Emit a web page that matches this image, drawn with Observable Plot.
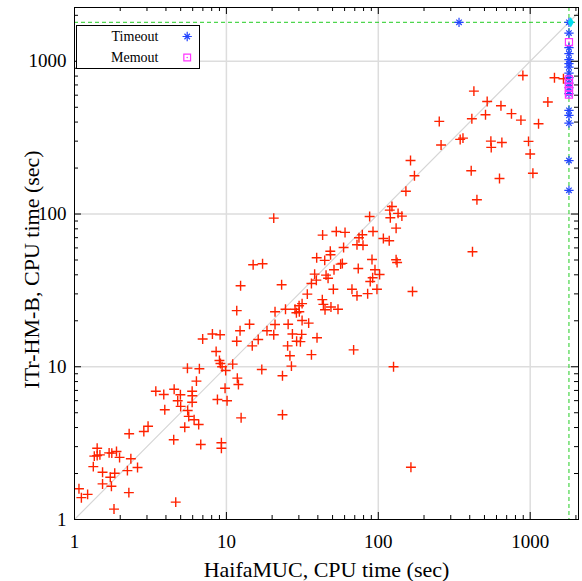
<!DOCTYPE html>
<html><head><meta charset="utf-8">
<script src="https://cdn.jsdelivr.net/npm/d3@7"></script>
<script src="https://cdn.jsdelivr.net/npm/@observablehq/plot@0.6"></script>
<style>body{margin:0;background:#fff} svg text{font-family:"Liberation Serif","Times New Roman",serif}</style>
</head><body><div id="chart"></div>
<script>
// Solved instances: HaifaMUC time (x) vs ITr-HM-B time (y), seconds
const haifa = [1.07,1.11,1.22,1.33,1.41,1.35,1.41,1.47,1.53,1.53,1.69,1.76,1.89,1.98,1.72,1.75,1.84,1.82,2.29,2.35,2.23,2.60,2.28,2.86,3.05,3.43,3.87,3.93,4.53,4.50,4.64,4.78,4.98,5.00,5.32,5.56,5.65,5.95,5.97,5.95,6.13,6.57,6.78,5.54,6.64,6.35,8.56,9.00,9.14,9.37,9.89,11.0,8.73,9.80,10.1,9.27,9.27,11.8,12.0,12.5,17.1,14.8,
20.5,43.0,52.9,60.4,72.4,74.6,59.1,48.3,48.5,39.3,44.4,58.0,56.5,73.8,51.1,38.1,45.3,46.7,39.1,36.3,15.0,17.3,12.4,23.1,50.6,67.1,72.4,34.1,42.8,43.5,44.6,48.8,54.3,11.7,20.9,24.5,28.3,30.1,31.5,28.9,30.2,31.5,34.8,14.2,20.9,25.5,12.3,18.5,6.98,8.09,9.09,11.7,16.2,20.5,27.2,31.3,30.7,29.0,39.5,25.3,68.8,
87.7,119,123,135,143,120,131,92.3,78.5,79.3,108,118,131,133,90.9,95.1,102,91.8,88.5,98.0,85.1,168,
26.2,36.3,26.8,23.4,23.4,126,164,
895,1445,1656,426,521,642,1307,753,508,413,252,869,1135,346,361,551,554,651,975,259,1000,163,173,409,628,1042,152,446,417];
const itr = [1.59,1.39,1.46,2.22,2.93,2.60,2.62,2.65,2.04,1.71,2.73,2.72,2.79,2.55,1.89,1.65,2.01,1.17,3.64,2.50,2.09,2.19,1.50,3.77,4.08,6.92,6.59,5.23,7.13,3.33,1.30,5.99,6.56,5.50,4.02,5.17,4.73,6.92,6.46,5.86,4.50,4.19,3.10,9.79,9.70,8.05,12.6,11.0,10.5,10.0,9.46,10.4,6.11,7.24,5.99,3.18,2.93,8.42,7.66,4.63,9.60,13.7,
94.0,72.8,76.9,75.8,62.9,70.0,60.4,57.1,54.1,51.7,49.7,47.5,47.0,44.0,43.2,40.4,39.8,38.0,36.9,35.1,46.6,47.3,33.9,34.4,32.2,32.2,29.2,29.9,27.5,25.6,23.6,24.6,23.8,23.3,22.9,23.8,23.8,25.1,25.9,22.6,22.9,20.1,19.3,19.0,18.9,19.0,17.2,17.2,15.2,16.4,16.2,14.7,15.1,16.2,16.4,16.3,14.6,14.7,15.5,13.7,12.9,
96.4,106,112,101,96.9,94.6,80.8,76.9,73.2,62.5,69.2,66.8,50.2,48.2,50.4,43.2,40.2,38.3,36.2,32.2,30.1,31.1,
11.8,12.0,10.1,8.73,4.85,10.0,2.20,
808,781,769,638,546,512,541,454,447,421,404,412,390,308,314,300,273,294,299,283,247,224,178,192,171,185,141,124,56.6];

// Timeouts (plotted at the 1800 s limit)
const timeoutX = [340,1800,1800,1800,1800,1800,1800,1800,1800,1800,1800,1800,1800,1800,1800,1800,1800,1800];
const timeoutY = [1800,1800,1531,1227,1121,1024,964,916,837,781,720,671,614,477,442,394,224,143];
// Memouts
const memoutX = [1800,1800,1800,1800,1800,1800];
const memoutY = [1336,760,718,676,638,606];
// Both timed out
const bothX = [1850];
const bothY = [1800];

const limit = 1800;
const diag = [1, 2300];
const gridX = [10,100,1000];
const gridY = [10,100,1000];
const xMajor = [1,10,100,1000];
const yMajor = [1,10,100,1000];
const xMinor = [2,3,4,5,6,7,8,9,20,30,40,50,60,70,80,90,200,300,400,500,600,700,800,900,2000];
const yMinor = [2,3,4,5,6,7,8,9,20,30,40,50,60,70,80,90,200,300,400,500,600,700,800,900,2000];
const xTitle = "HaifaMUC, CPU time (sec)";
const yTitle = "ITr-HM-B, CPU time (sec)";
const legendLabels = ["Timeout","Memout"];

const solved = haifa.map((x,i)=>({x, y: itr[i]}));
const timeouts = timeoutX.map((x,i)=>({x, y: timeoutY[i]}));
const memouts = memoutX.map((x,i)=>({x, y: memoutY[i]}));
const both = bothX.map((x,i)=>({x, y: bothY[i]}));

const W=582, H=581, mL=74, mR=4, mT=7, mB=62;
const innerH = H-mT-mB, innerW = W-mL-mR;
const serif = "Liberation Serif";
const red = "#ff2200", blue = "#2244ff", magenta = "#ff33ff", green = "#22cc22", cyan = "#00ddee";
const majorLen = 7, minorLen = 4;
const T = {fontFamily: serif, fill: "black"};

const chart = Plot.plot({
  width: W, height: H,
  marginLeft: mL, marginRight: mR, marginTop: mT, marginBottom: mB,
  style: "font-family: 'Liberation Serif', serif; background: white; color: black; overflow: visible;",
  x: {type: "log", domain: [1, 2080], axis: null},
  y: {type: "log", domain: [1, 2250], axis: null},
  marks: [
    Plot.ruleX(gridX, {x: d=>d, stroke: "#dddddd", strokeWidth: 1.5}),
    Plot.ruleY(gridY, {y: d=>d, stroke: "#dddddd", strokeWidth: 1.5}),
    Plot.line(diag, {x: d=>d, y: d=>d, stroke: "#d6d6d6", strokeWidth: 1.2, clip: true}),
    Plot.ruleX([limit], {x: d=>d, stroke: green, strokeWidth: 1, strokeDasharray: "4,3"}),
    Plot.ruleY([limit], {y: d=>d, stroke: green, strokeWidth: 1, strokeDasharray: "4,3"}),
    Plot.dot(solved, {x: "x", y: "y", symbol: "plus", r: 3.3, stroke: red, strokeWidth: 1.4}),
    Plot.dot(timeouts, {x: "x", y: "y", symbol: "plus", r: 3.1, stroke: blue, strokeWidth: 1.2}),
    Plot.dot(timeouts, {x: "x", y: "y", symbol: "times", r: 2.6, stroke: blue, strokeWidth: 1.2}),
    Plot.dot(memouts, {x: "x", y: "y", symbol: "square", r: 4, stroke: magenta, fill: "none", strokeWidth: 1.2}),
    Plot.dot(memouts, {x: "x", y: "y", r: 0.8, fill: magenta}),
    Plot.dot(both, {x: "x", y: "y", symbol: "diamond", r: 3.2, fill: cyan}),
    Plot.frame({stroke: "black", strokeWidth: 1}),
    // ticks (inward, mirrored)
    Plot.ruleX(xMajor, {x: d=>d, insetTop: innerH - majorLen, stroke: "black"}),
    Plot.ruleX(xMajor, {x: d=>d, insetBottom: innerH - majorLen, stroke: "black"}),
    Plot.ruleX(xMinor, {x: d=>d, insetTop: innerH - minorLen, stroke: "black"}),
    Plot.ruleX(xMinor, {x: d=>d, insetBottom: innerH - minorLen, stroke: "black"}),
    Plot.ruleY(yMajor, {y: d=>d, insetRight: innerW - majorLen, stroke: "black"}),
    Plot.ruleY(yMajor, {y: d=>d, insetLeft: innerW - majorLen, stroke: "black"}),
    Plot.ruleY(yMinor, {y: d=>d, insetRight: innerW - minorLen, stroke: "black"}),
    Plot.ruleY(yMinor, {y: d=>d, insetLeft: innerW - minorLen, stroke: "black"}),
    // tick labels
    Plot.text(xMajor, {...T, x: d=>d, text: d=>String(d), frameAnchor: "bottom", dy: 22, lineAnchor: "middle", fontSize: 19}),
    Plot.text(yMajor, {...T, y: d=>d, text: d=>String(d), frameAnchor: "left", dx: -8, textAnchor: "end", lineAnchor: "middle", fontSize: 19}),
    // axis titles
    Plot.text([xTitle], {...T, frameAnchor: "bottom", dy: 50, textAnchor: "middle", lineAnchor: "middle", fontSize: 22, text: d=>d}),
    Plot.text([yTitle], {...T, frameAnchor: "left", dx: -43, dy: 6, rotate: -90, textAnchor: "middle", lineAnchor: "middle", fontSize: 22, text: d=>d}),
    // legend
    Plot.frame({insetLeft: 2, insetTop: 18, insetRight: innerW - 125, insetBottom: innerH - 61, fill: "white", stroke: "black"}),
    Plot.text([legendLabels[0]], {...T, frameAnchor: "top-left", dx: 84, dy: 29, textAnchor: "end", lineAnchor: "middle", fontSize: 14, text: d=>d}),
    Plot.text([legendLabels[1]], {...T, frameAnchor: "top-left", dx: 84, dy: 50, textAnchor: "end", lineAnchor: "middle", fontSize: 14, text: d=>d}),
    Plot.dot([0], {frameAnchor: "top-left", dx: 112.7, dy: 29, symbol: "plus", r: 3.1, stroke: blue, strokeWidth: 1.2}),
    Plot.dot([0], {frameAnchor: "top-left", dx: 112.7, dy: 29, symbol: "times", r: 2.6, stroke: blue, strokeWidth: 1.2}),
    Plot.dot([0], {frameAnchor: "top-left", dx: 112.7, dy: 50, symbol: "square", r: 3.8, stroke: magenta, fill: "none", strokeWidth: 1.2}),
    Plot.dot([0], {frameAnchor: "top-left", dx: 112.7, dy: 50, r: 0.8, fill: magenta})
  ]
});
document.getElementById("chart").appendChild(chart);
</script>
</body></html>
